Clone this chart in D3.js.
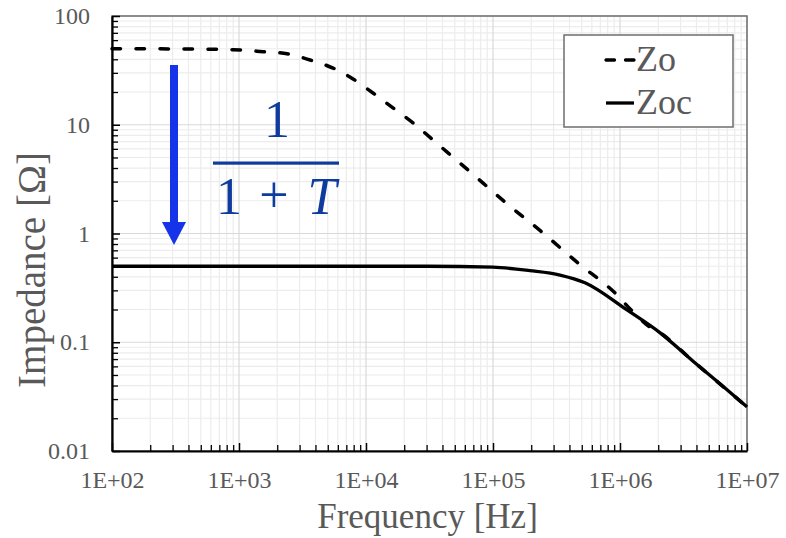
<!DOCTYPE html>
<html>
<head>
<meta charset="utf-8">
<script src="https://cdn.jsdelivr.net/npm/d3@7"></script>
<style>
  body { margin: 0; background: #fff; }
</style>
</head>
<body>
<div id="chart"></div>
<script>
// Data
const zoFreq = [1e2, 3e2, 9e2, 1545, 2390, 3625, 5500, 7900, 11350, 16300, 23500, 33700, 63600,
    1.24e5, 2.43e5, 4.67e5, 9.13e5, 1.265e6, 1.72e6, 2.07e6, 3.76e6, 6.96e6, 1e7];
const zoValues = [50, 49.8, 49, 47, 45, 39.4, 33.2, 26.4, 19.6, 14.3, 10.4, 7.24, 3.84,
    1.95, 1.03, 0.535, 0.284, 0.19, 0.138, 0.122, 0.067, 0.0365, 0.0254];
const zocFreq = [1e2, 3e4, 1e5, 1.95e5, 3.37e5, 5.3e5, 1.135e6, 2.07e6, 3.76e6, 6.96e6, 1e7];
const zocValues = [0.5, 0.5, 0.49, 0.455, 0.415, 0.352, 0.198, 0.122, 0.067, 0.0365, 0.0254];
const xTickValues = [1e2, 1e3, 1e4, 1e5, 1e6, 1e7];
const xTickLabels = ['1E+02', '1E+03', '1E+04', '1E+05', '1E+06', '1E+07'];
const yTickValues = [0.01, 0.1, 1, 10, 100];
const yTickLabels = ['0.01', '0.1', '1', '10', '100'];
const seriesNames = ['Zo', 'Zoc'];

function drawChart(chartId) {
    const margin = {top: 16, left: 112},
        width = 635,
        height = 435,
        grey = '#595959',
        serif = '"Liberation Serif"';

    const x = d3.scaleLog().domain([1e2, 1e7]).range([0, width]);
    const y = d3.scaleLog().domain([0.01, 100]).range([height, 0]);

    const svg = d3.select(chartId).append('svg')
        .attr('width', 786)
        .attr('height', 538)
        .append('g')
        .attr('transform', 'translate(' + margin.left + ',' + margin.top + ')');

    const xMinor = x.ticks().filter(v => !xTickValues.includes(v));
    const yMinor = y.ticks().filter(v => !yTickValues.some(t => Math.abs(t - v) / v < 1e-9));

    // Minor grid
    svg.append('g').selectAll('line').data(xMinor).enter().append('line')
        .attr('x1', d => x(d)).attr('x2', d => x(d))
        .attr('y1', 0).attr('y2', height)
        .attr('stroke', '#ececec').attr('stroke-width', 1.2);
    svg.append('g').selectAll('line').data(yMinor).enter().append('line')
        .attr('y1', d => y(d)).attr('y2', d => y(d))
        .attr('x1', 0).attr('x2', width)
        .attr('stroke', '#ececec').attr('stroke-width', 1.2);

    // Major grid
    svg.append('g').selectAll('line').data(xTickValues).enter().append('line')
        .attr('x1', d => x(d)).attr('x2', d => x(d))
        .attr('y1', 0).attr('y2', height)
        .attr('stroke', '#d9d9d9').attr('stroke-width', 1.2);
    svg.append('g').selectAll('line').data(yTickValues).enter().append('line')
        .attr('y1', d => y(d)).attr('y2', d => y(d))
        .attr('x1', 0).attr('x2', width)
        .attr('stroke', '#d9d9d9').attr('stroke-width', 1.2);

    // Frame
    svg.append('rect')
        .attr('width', width).attr('height', height)
        .attr('fill', 'none')
        .attr('stroke', '#6e6e6e')
        .attr('stroke-width', 1.5);

    // Minor ticks
    svg.append('g')
        .attr('transform', 'translate(0,' + height + ')')
        .call(d3.axisBottom(x).tickValues(xMinor).tickSizeInner(-6).tickSizeOuter(0).tickFormat(''))
        .call(g => g.select('.domain').remove())
        .selectAll('line').attr('stroke', '#000').attr('stroke-width', 1.3);
    svg.append('g')
        .call(d3.axisLeft(y).tickValues(yMinor).tickSizeInner(-6).tickSizeOuter(0).tickFormat(''))
        .call(g => g.select('.domain').remove())
        .selectAll('line').attr('stroke', '#000').attr('stroke-width', 1.3);

    // Display X axis
    const xAxis = svg.append('g')
        .attr('transform', 'translate(0,' + height + ')')
        .call(d3.axisBottom(x).tickValues(xTickValues).tickSizeInner(-8).tickSizeOuter(0)
            .tickPadding(20).tickFormat((d, i) => xTickLabels[i]));
    xAxis.select('.domain').attr('stroke', '#000').attr('stroke-width', 2.2);
    xAxis.selectAll('line').attr('stroke', '#000').attr('stroke-width', 1.5);
    xAxis.selectAll('text')
        .attr('fill', grey)
        .style('font-family', serif)
        .style('font-size', '24px');

    // Display Y axis
    const yAxis = svg.append('g')
        .call(d3.axisLeft(y).tickValues(yTickValues).tickSizeInner(-8).tickSizeOuter(0)
            .tickPadding(22).tickFormat((d, i) => yTickLabels[i]));
    yAxis.select('.domain').attr('stroke', '#000').attr('stroke-width', 2.2);
    yAxis.selectAll('line').attr('stroke', '#000').attr('stroke-width', 1.5);
    yAxis.selectAll('text')
        .attr('fill', grey)
        .style('font-family', serif)
        .style('font-size', '24px');

    // Axis titles
    svg.append('text')
        .attr('x', width / 2 - 2)
        .attr('y', 512)
        .attr('text-anchor', 'middle')
        .attr('fill', grey)
        .style('font-family', serif)
        .style('font-size', '35px')
        .text('Frequency [Hz]');
    svg.append('text')
        .attr('transform', 'translate(' + (45 - margin.left) + ',' + (270 - margin.top) + ') rotate(-90)')
        .attr('text-anchor', 'middle')
        .attr('fill', grey)
        .style('font-family', serif)
        .style('font-size', '39px')
        .text('Impedance [Ω]');

    // Lines
    const line = d3.line()
        .x(d => x(d[0]))
        .y(d => y(d[1]))
        .curve(d3.curveMonotoneX);

    svg.append('path')
        .datum(zocFreq.map((f, i) => [f, zocValues[i]]))
        .attr('fill', 'none')
        .attr('stroke', '#000')
        .attr('stroke-width', 3.3)
        .attr('d', line);

    svg.append('path')
        .datum(zoFreq.map((f, i) => [f, zoValues[i]]))
        .attr('fill', 'none')
        .attr('stroke', '#000')
        .attr('stroke-width', 3.5)
        .attr('stroke-linecap', 'round')
        .attr('stroke-dasharray', '8.5,15.5')
        .attr('d', line);

    // Blue arrow
    const ax = 174 - margin.left;
    svg.append('line')
        .attr('x1', ax).attr('x2', ax)
        .attr('y1', 65 - margin.top).attr('y2', 224 - margin.top)
        .attr('stroke', '#1533e8')
        .attr('stroke-width', 8);
    svg.append('path')
        .attr('d', 'M' + (ax - 12) + ',' + (222 - margin.top) + 'L' + (ax + 12) + ',' + (222 - margin.top)
            + 'L' + ax + ',' + (245 - margin.top) + 'Z')
        .attr('fill', '#1533e8');

    // Formula 1/(1+T)
    const formula = svg.append('g').attr('fill', '#0d3b9e')
        .style('font-family', serif)
        .style('font-size', '52px');
    formula.append('text')
        .attr('x', 277 - margin.left).attr('y', 137 - margin.top)
        .attr('text-anchor', 'middle')
        .style('font-family', serif)
        .text('1');
    formula.append('rect')
        .attr('x', 213 - margin.left).attr('y', 161.5 - margin.top)
        .attr('width', 126).attr('height', 3.2);
    formula.append('text')
        .attr('x', 229 - margin.left).attr('y', 214 - margin.top)
        .attr('text-anchor', 'middle')
        .style('font-family', serif)
        .text('1');
    formula.append('text')
        .attr('x', 274 - margin.left).attr('y', 212 - margin.top)
        .attr('text-anchor', 'middle')
        .style('font-family', serif)
        .text('+');
    formula.append('text')
        .attr('x', 322 - margin.left).attr('y', 214 - margin.top)
        .attr('text-anchor', 'middle')
        .style('font-family', serif)
        .style('font-style', 'italic')
        .text('T');

    // Legend
    const legend = svg.append('g')
        .attr('transform', 'translate(' + (564 - margin.left) + ',' + (35 - margin.top) + ')');
    legend.append('rect')
        .attr('width', 169).attr('height', 92)
        .attr('fill', '#fff')
        .attr('stroke', '#6e6e6e')
        .attr('stroke-width', 1.5);
    seriesNames.forEach(function (name, i) {
        const ly = 25 + i * 43;
        legend.append('line')
            .attr('x1', 42).attr('x2', 70)
            .attr('y1', ly).attr('y2', ly)
            .attr('stroke', '#000')
            .attr('stroke-width', 3.3)
            .attr('stroke-linecap', i === 0 ? 'round' : 'butt')
            .attr('stroke-dasharray', i === 0 ? '8.5,11' : null);
        legend.append('text')
            .attr('x', 72).attr('y', ly + 11)
            .attr('fill', grey)
            .style('font-family', serif)
            .style('font-size', '36px')
            .text(name);
    });
}

drawChart('#chart');
</script>
</body>
</html>
